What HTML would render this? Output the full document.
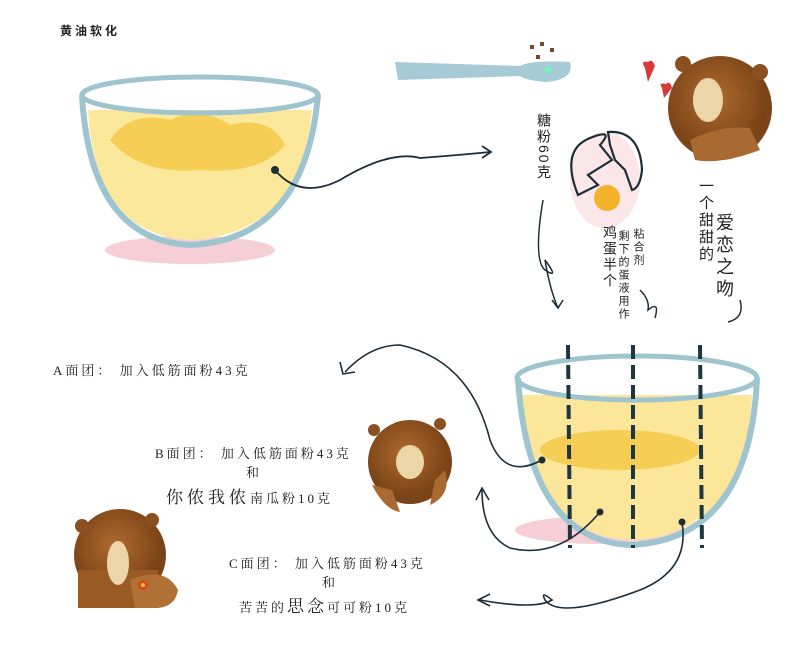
<!DOCTYPE html><html><head><meta charset="utf-8"><style>
body{margin:0;background:#fff;width:800px;height:653px;overflow:hidden;font-family:"Liberation Serif","Noto Serif CJK SC",serif;}
.t{position:absolute;color:#222;white-space:nowrap;letter-spacing:3px;font-size:13px}
.v{position:absolute;writing-mode:vertical-rl;color:#222;letter-spacing:2px;font-family:"Liberation Sans","Noto Sans CJK SC",sans-serif}
</style></head><body>
<svg width="800" height="653" style="position:absolute;left:0;top:0">
<defs><radialGradient id="br" cx="45%" cy="40%"><stop offset="0" stop-color="#b06a2e"/><stop offset="1" stop-color="#7a4418"/></radialGradient></defs>
<!-- bowl 1 -->
<ellipse cx="190" cy="250" rx="85" ry="14" fill="#f6cfd6"/>
<path d="M88 110 Q95 235 190 240 Q300 235 312 110 Z" fill="#fbe89a"/>
<path d="M110 140 Q130 110 170 120 Q200 105 230 125 Q270 115 285 145 Q260 175 200 170 Q140 175 110 140Z" fill="#f6cd55"/>
<path d="M82 95 Q90 240 190 245 Q305 240 318 95" fill="none" stroke="#9dc4cf" stroke-width="6"/>
<ellipse cx="200" cy="95" rx="118" ry="18" fill="none" stroke="#9dc4cf" stroke-width="5"/>
<circle cx="275" cy="170" r="4" fill="#1e2e38"/>
<path d="M275 170 Q300 200 340 180 Q390 150 420 158 Q460 155 490 152" fill="none" stroke="#1e2e38" stroke-width="1.8"/>
<path d="M482 146 L491 152 L482 158" fill="none" stroke="#1e2e38" stroke-width="1.8"/>
<!-- spoon -->
<path d="M395 62 L520 66 Q530 60 570 62 Q575 80 545 82 Q525 80 520 76 L398 80 Z" fill="#a6cbd6"/>
<circle cx="548" cy="70" r="3" fill="#6fa"/>
<g fill="#7a4a30"><rect x="530" y="45" width="4" height="4"/><rect x="540" y="42" width="4" height="4"/><rect x="550" y="48" width="4" height="4"/><rect x="536" y="55" width="4" height="4"/></g>
<!-- egg -->
<ellipse cx="605" cy="180" rx="35" ry="48" fill="#fbe6e8"/>
<circle cx="607" cy="198" r="13" fill="#f3b22a"/>
<path d="M578 195 Q560 150 590 138 Q615 128 600 145 L612 160 L588 175 L598 185Z" fill="none" stroke="#1e2e38" stroke-width="2.2"/>
<path d="M608 132 Q640 130 642 170 Q640 188 632 190 L625 170 L615 160 L610 145Z" fill="none" stroke="#1e2e38" stroke-width="2.2"/>
<!-- hearts -->
<path d="M645 68 Q640 60 648 62 Q652 58 655 66 L648 82Z" fill="#d73a3a"/>
<path d="M662 88 Q658 82 666 84 Q670 80 672 88 L664 98Z" fill="#d73a3a"/>
<!-- bear top right -->
<circle cx="720" cy="108" r="52" fill="url(#br)"/>
<circle cx="683" cy="64" r="8" fill="#8a5020"/><circle cx="760" cy="72" r="8" fill="#8a5020"/>
<ellipse cx="708" cy="100" rx="15" ry="22" fill="#ecd6a8"/>
<path d="M690 140 Q720 125 750 128 L760 150 Q720 165 695 160Z" fill="#a86a30"/>
<!-- arrows top -->
<path d="M543 200 Q533 260 545 270 Q560 280 545 260 Q550 290 558 308" fill="none" stroke="#1e2e38" stroke-width="1.5"/>
<path d="M552 300 L558 308 L563 300" fill="none" stroke="#1e2e38" stroke-width="1.5"/>
<path d="M640 290 Q650 300 648 310 Q660 300 655 318" fill="none" stroke="#1e2e38" stroke-width="1.5"/>
<path d="M740 300 Q745 318 728 322" fill="none" stroke="#1e2e38" stroke-width="1.5"/>
<!-- bowl 2 -->
<ellipse cx="600" cy="530" rx="85" ry="14" fill="#f6cfd6"/>
<path d="M522 395 Q530 535 630 540 Q745 535 752 395 Z" fill="#fbe69a"/>
<ellipse cx="620" cy="450" rx="80" ry="20" fill="#f6cd55"/>
<path d="M518 378 Q528 540 630 545 Q750 540 757 378" fill="none" stroke="#9dc4cf" stroke-width="6"/>
<ellipse cx="637" cy="378" rx="120" ry="22" fill="none" stroke="#9dc4cf" stroke-width="5"/>
<g stroke="#1e3640" stroke-width="4" stroke-dasharray="14 6"><line x1="568" y1="345" x2="570" y2="548"/><line x1="633" y1="345" x2="633" y2="548"/><line x1="700" y1="345" x2="702" y2="548"/></g>
<!-- connectors bowl 2 -->
<circle cx="542" cy="460" r="3.5" fill="#1e2e38"/>
<path d="M542 460 Q505 480 490 440 Q470 360 400 345 Q370 345 345 372" fill="none" stroke="#1e2e38" stroke-width="1.6"/>
<path d="M340 362 L343 374 L355 372" fill="none" stroke="#1e2e38" stroke-width="1.6"/>
<circle cx="600" cy="512" r="3.5" fill="#1e2e38"/>
<path d="M600 512 Q560 560 510 548 Q482 535 482 490" fill="none" stroke="#1e2e38" stroke-width="1.6"/>
<path d="M476 500 L482 488 L489 500" fill="none" stroke="#1e2e38" stroke-width="1.6"/>
<circle cx="682" cy="522" r="3.5" fill="#1e2e38"/>
<path d="M682 522 Q690 570 640 590 Q560 620 545 600 Q540 590 552 600 Q535 610 480 600" fill="none" stroke="#1e2e38" stroke-width="1.6"/>
<path d="M490 594 L478 600 L490 606" fill="none" stroke="#1e2e38" stroke-width="1.6"/>
<!-- bear middle -->
<circle cx="410" cy="462" r="42" fill="url(#br)"/>
<circle cx="374" cy="430" r="6" fill="#8a5020"/><circle cx="440" cy="424" r="6" fill="#8a5020"/>
<ellipse cx="410" cy="462" rx="14" ry="17" fill="#ecd6a8"/>
<path d="M372 485 Q385 510 400 512 L392 490Z" fill="#a86a30"/><path d="M445 470 Q452 495 430 505 L435 480Z" fill="#a86a30"/>
<!-- bear bottom-left -->
<circle cx="120" cy="555" r="46" fill="url(#br)"/>
<circle cx="82" cy="526" r="7" fill="#8a5020"/><circle cx="152" cy="520" r="7" fill="#8a5020"/>
<rect x="78" y="570" width="80" height="38" fill="#9a5a24"/>
<ellipse cx="118" cy="563" rx="11" ry="22" fill="#ecd6a8"/>
<path d="M130 580 Q165 565 178 590 Q175 608 155 608 L135 608Z" fill="#b07234"/>
<circle cx="143" cy="585" r="5" fill="#d84a1e"/><circle cx="143" cy="585" r="2" fill="#f5c028"/>
</svg>
<div class="t" style="left:60px;top:22px;font-family:'Liberation Sans','Noto Sans CJK SC',sans-serif;font-size:12px;font-weight:bold">黄油软化</div>
<div class="v" style="left:534px;top:113px;font-size:14px">糖粉60克</div>
<div class="v" style="left:600px;top:225px;font-size:14px">鸡蛋半个</div>
<div class="v" style="left:615px;top:230px;font-size:11px">剩下的蛋液用作</div>
<div class="v" style="left:630px;top:228px;font-size:11px">粘合剂</div>
<div class="v" style="left:695px;top:178px;font-size:15px">一个甜甜的</div>
<div class="v" style="left:711px;top:213px;font-size:18px;letter-spacing:4px">爱恋之吻</div>
<div class="t" style="left:53px;top:360px">A面团： 加入低筋面粉43克</div>
<div class="t" style="left:155px;top:443px">B面团： 加入低筋面粉43克</div>
<div class="t" style="left:246px;top:462px">和</div>
<div class="t" style="left:166px;top:483px"><span style="font-size:17px;letter-spacing:4px">你侬我侬</span>南瓜粉10克</div>
<div class="t" style="left:229px;top:553px">C面团： 加入低筋面粉43克</div>
<div class="t" style="left:322px;top:572px">和</div>
<div class="t" style="left:239px;top:592px">苦苦的<span style="font-size:17px">思念</span>可可粉10克</div>
</body></html>
